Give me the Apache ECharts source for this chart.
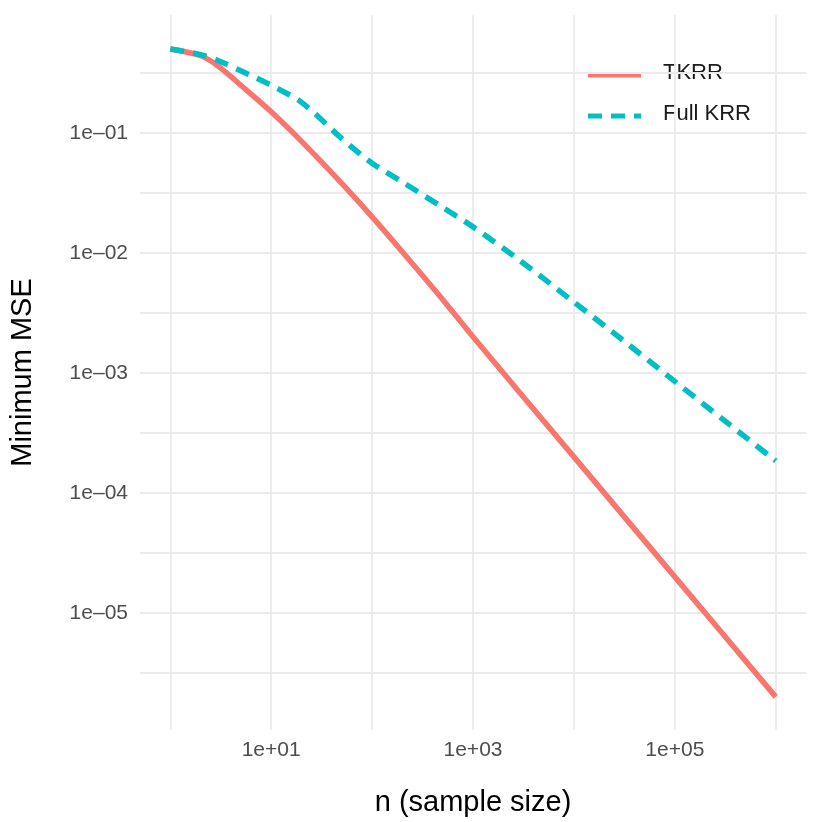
<!DOCTYPE html>
<html><head><meta charset="utf-8">
<script src="https://cdn.jsdelivr.net/npm/echarts@6/dist/echarts.min.js"></script>
<style>html,body{margin:0;background:#fff}#c{width:822px;height:822px}</style>
</head><body><div id="c"></div>
<script>
const nTKRR = [1,2,3,5,10,20,50,100,200,500,1000,1e4,1e5,1e6];
const mseTKRR = [0.5,0.44,0.36,0.25,0.15,0.085,0.038,0.02,0.0102,0.0041,0.002,2e-4,2e-5,2e-6];
const nFull = [1,2,3,5,10,20,50,100,200,500,1000,3000,1e4,3e4,1e5,3e5,1e6];
const mseFull = [0.5,0.45,0.40,0.33,0.25,0.18,0.09,0.056,0.039,0.024,0.0165,0.0085,0.0039,0.0019,8.5e-4,4.1e-4,1.85e-4];
const xLabels = {1:'1e+01',3:'1e+03',5:'1e+05'};
const yLabels = {'-1':'1e\u201301','-2':'1e\u201302','-3':'1e\u201303','-4':'1e\u201304','-5':'1e\u201305'};
const legendNames = ['TKRR','Full KRR'];
const colors = ['#F8766D','#00BFC4'];
const L = Math.log10;
const toPts = (xs, ys) => xs.map((x,i)=>[L(x), L(ys[i])]);
const chart = echarts.init(document.getElementById('c'));
const gridLine = {show:true, lineStyle:{color:'#ebebeb', width:1.8}};
const F = 'Liberation Sans';
chart.setOption({
  animation:false,
  grid:{left:138,right:16,top:15,bottom:92},
  xAxis:{type:'value',min:-0.3,max:6.3,name:'n (sample size)',nameLocation:'middle',nameGap:58,
    nameTextStyle:{fontSize:29,color:'#000',fontFamily:F},
    axisLine:{show:false},
    axisTick:{show:false,customValues:[0,1,2,3,4,5,6]},
    splitLine:gridLine,
    axisLabel:{customValues:[1,3,5],formatter:v=>xLabels[Math.round(v)]||'',fontSize:21,color:'#4d4d4d',fontFamily:F,margin:10}},
  yAxis:{type:'value',min:-5.975,max:-0.017,name:'Minimum MSE',nameLocation:'middle',nameGap:103,
    nameTextStyle:{fontSize:29,color:'#000',fontFamily:F},
    axisLine:{show:false},
    axisTick:{show:false,customValues:[-5.5,-5,-4.5,-4,-3.5,-3,-2.5,-2,-1.5,-1,-0.5]},
    splitLine:gridLine,
    axisLabel:{customValues:[-5,-4,-3,-2,-1],formatter:v=>yLabels[String(Math.round(v))]||'',fontSize:21,color:'#4d4d4d',fontFamily:F,margin:12}},
  graphic:[
    {type:'line',shape:{x1:588,y1:75,x2:641,y2:75},style:{stroke:colors[0],lineWidth:5}},
    {type:'line',shape:{x1:588,y1:116,x2:641,y2:116},style:{stroke:colors[1],lineWidth:5,lineDash:[14,9]}},
    {type:'text',left:663,top:62,style:{text:legendNames[0],fontSize:22,fill:'#1a1a1a',fontFamily:F}},
    {type:'text',left:663,top:103,style:{text:legendNames[1],fontSize:22,fill:'#1a1a1a',fontFamily:F}}
  ],
  series:[
    {name:legendNames[0],type:'line',smooth:0.3,showSymbol:false,data:toPts(nTKRR,mseTKRR),
      lineStyle:{color:colors[0],width:5.5},itemStyle:{color:colors[0]}},
    {name:legendNames[1],type:'line',smooth:0.3,showSymbol:false,data:toPts(nFull,mseFull),
      lineStyle:{color:colors[1],width:5.5,type:[14,9]},itemStyle:{color:colors[1]}}
  ]
});
</script></body></html>
